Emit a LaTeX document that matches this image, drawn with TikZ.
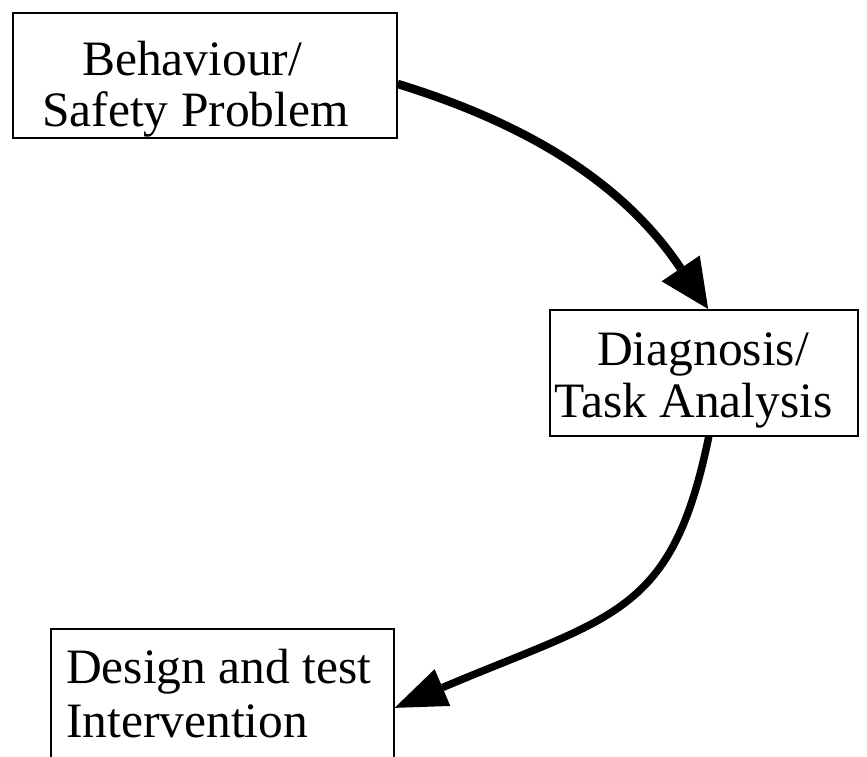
\documentclass[tikz,border=0pt]{standalone}
\usepackage{fontspec}
\setmainfont{Liberation Serif}
\usetikzlibrary{arrows.meta,calc}
\begin{document}
\begin{tikzpicture}[x=1pt,y=-1pt,
  box/.style={draw, line width=1.6pt, inner sep=0pt, anchor=north west},
  lbl/.style={anchor=base west, inner sep=0pt, font=\fontsize{49.5}{52}\selectfont},
  flowa/.style={line width=8.5pt, line join=round, -{Triangle[length=49pt,width=46pt,line width=0pt]}},
  flowb/.style={line width=7.5pt, line join=round, -{Triangle[length=52pt,width=40pt,line width=0pt]}}]
\useasboundingbox (0,0) rectangle (867,756);
\node[box, minimum width=384pt, minimum height=125pt] (b1) at (12,12) {};
\node[box, minimum width=308pt, minimum height=126pt] (b2) at (549,309) {};
\node[box, minimum width=343pt, minimum height=140pt] (b3) at (50,628) {};
\node[lbl] (t1a) at (82,75) {Behaviour/};
\node[lbl] (t1b) at (42,126) {Safety Problem};
\node[lbl] (t2a) at (597,365) {Diagnosis/};
\node[lbl] (t2b) at (554,417) {Task Analysis};
\node[lbl] (t3a) at (66,683) {Design and test};
\node[lbl] (t3b) at (66,737) {Intervention};
\coordinate (s1) at ($(b1.north east)!0.568!(b1.south east)$);
\coordinate (e1) at ($(b2.north west)!0.514!(b2.north east)$);
\coordinate (s2) at ($(b2.south west)!0.516!(b2.south east)$);
\coordinate (e2) at ($(b3.north east)!0.564!(b3.south east)$);
\coordinate (c1a) at (505.8,117.2);
\coordinate (c1b) at ($(e1)+(-93,-137.8)$);
\coordinate (m1) at ($(e1)+(-28.6,-42.3)$);
\coordinate (c2a) at (672,615);
\coordinate (c2b) at ($(e2)+(220,-93)$);
\coordinate (m2) at ($(e2)+(49.7,-21.1)$);
\draw[flowa] (s1) .. controls (c1a) and (c1b) .. (m1) -- (e1);
\draw[flowb] (s2) .. controls (c2a) and (c2b) .. (m2) -- (e2);
\end{tikzpicture}
\end{document}
